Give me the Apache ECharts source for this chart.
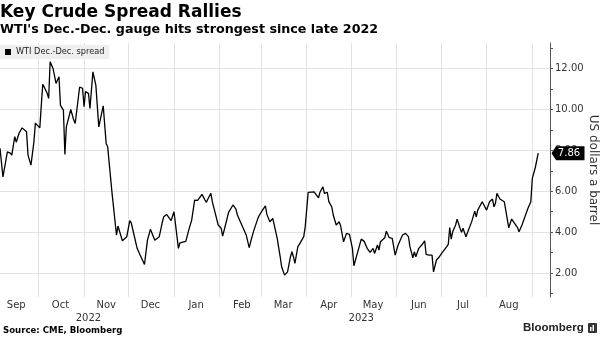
<!DOCTYPE html>
<html>
<head>
<meta charset="utf-8">
<script src="https://cdn.jsdelivr.net/npm/echarts@6/dist/echarts.min.js"></script>
<style>
  html, body { margin: 0; padding: 0; background: #fff; }
  #chart { width: 600px; height: 337px; }
</style>
</head>
<body>
<div id="chart"></div>
<script>
// WTI December-December calendar spread, US$ per barrel
const dates = [
  '2022-09-05','2022-09-07','2022-09-10','2022-09-12','2022-09-13','2022-09-15','2022-09-16','2022-09-18',
  '2022-09-20','2022-09-21','2022-09-23','2022-09-24','2022-09-26','2022-09-28','2022-09-29','2022-09-30',
  '2022-10-02','2022-10-03','2022-10-04','2022-10-07','2022-10-08','2022-10-09','2022-10-11','2022-10-13',
  '2022-10-15','2022-10-16','2022-10-18','2022-10-19','2022-10-20','2022-10-23','2022-10-25','2022-10-26',
  '2022-10-29','2022-10-31','2022-11-01','2022-11-02','2022-11-04','2022-11-05','2022-11-07','2022-11-09',
  '2022-11-11','2022-11-14','2022-11-16','2022-11-17','2022-11-18','2022-11-20','2022-11-23','2022-11-24',
  '2022-11-27','2022-11-30','2022-12-02','2022-12-03','2022-12-07','2022-12-09','2022-12-12','2022-12-14',
  '2022-12-16','2022-12-19','2022-12-22','2022-12-24','2022-12-25','2022-12-27','2022-12-30','2023-01-01',
  '2023-01-04','2023-01-05','2023-01-09','2023-01-11','2023-01-13','2023-01-15','2023-01-17','2023-01-18',
  '2023-01-20','2023-01-22','2023-01-23','2023-01-24','2023-01-26','2023-01-27','2023-01-29','2023-01-30',
  '2023-01-31','2023-02-02','2023-02-03','2023-02-04','2023-02-06','2023-02-07','2023-02-08','2023-02-10',
  '2023-02-12','2023-02-13','2023-02-15','2023-02-16','2023-02-18','2023-02-19','2023-02-21','2023-02-22',
  '2023-02-24','2023-02-25','2023-02-27','2023-02-28','2023-03-02','2023-03-04','2023-03-05','2023-03-07',
  '2023-03-09','2023-03-10','2023-03-12','2023-03-14','2023-03-15','2023-03-16','2023-03-17','2023-03-19',
  '2023-03-21','2023-03-22','2023-03-23','2023-03-24','2023-03-26','2023-03-27','2023-03-28','2023-03-30',
  '2023-03-31','2023-04-02','2023-04-03','2023-04-06','2023-04-07','2023-04-09','2023-04-10','2023-04-12',
  '2023-04-13','2023-04-15','2023-04-16','2023-04-18','2023-04-19','2023-04-21','2023-04-23','2023-04-24',
  '2023-04-26','2023-04-28','2023-04-30','2023-05-02','2023-05-03','2023-05-05','2023-05-08','2023-05-10',
  '2023-05-12','2023-05-14','2023-05-15','2023-05-16','2023-05-17','2023-05-19','2023-05-20','2023-05-21',
  '2023-05-24','2023-05-25','2023-05-27','2023-05-29','2023-05-31','2023-06-02','2023-06-05','2023-06-06',
  '2023-06-07','2023-06-09','2023-06-10','2023-06-12','2023-06-13','2023-06-14','2023-06-16','2023-06-18',
  '2023-06-19','2023-06-20','2023-06-21','2023-06-23','2023-06-25','2023-06-26','2023-06-28','2023-06-30',
  '2023-07-02','2023-07-05','2023-07-06','2023-07-07','2023-07-08','2023-07-09','2023-07-11','2023-07-12',
  '2023-07-14','2023-07-15','2023-07-16','2023-07-18','2023-07-19','2023-07-22','2023-07-24','2023-07-25',
  '2023-07-26','2023-07-29','2023-07-30','2023-08-01','2023-08-03','2023-08-05','2023-08-06','2023-08-07',
  '2023-08-08','2023-08-10','2023-08-11','2023-08-13','2023-08-14','2023-08-16','2023-08-18','2023-08-20',
  '2023-08-22','2023-08-23','2023-08-25','2023-08-27','2023-08-29','2023-08-31','2023-09-01','2023-09-03',
  '2023-09-05'
];
const spread = [
  8.10, 6.70, 7.93, 7.87, 7.77, 8.67, 8.40, 8.85,
  9.10, 9.04, 8.91, 7.77, 7.28, 8.42, 9.33, 9.40,
  9.10, 10.20, 11.23, 10.79, 10.54, 12.33, 12.00, 11.27,
  11.60, 10.20, 9.97, 7.80, 9.15, 10.00, 9.48, 9.32,
  11.10, 11.03, 10.13, 10.87, 10.79, 10.05, 11.84, 11.19,
  9.15, 10.18, 8.34, 8.18, 8.21, 5.90, 3.86, 4.30,
  3.58, 3.78, 4.56, 4.46, 3.21, 2.88, 2.42, 3.61,
  4.14, 3.61, 3.78, 4.46, 4.75, 4.87, 4.56, 5.00,
  3.21, 3.48, 3.55, 4.10, 4.59, 5.57, 5.55, 5.65,
  5.85, 5.57, 5.46, 5.62, 5.90, 5.49, 4.92, 4.87,
  4.35, 4.19, 3.81, 3.86, 4.67, 4.97, 4.92, 5.33,
  5.13, 4.84, 4.51, 4.43, 4.02, 3.86, 3.24, 3.53,
  4.05, 4.10, 4.70, 4.84, 5.08, 5.29, 4.87, 4.51,
  4.67, 4.59, 3.70, 2.80, 2.31, 2.39, 1.90, 2.06,
  2.80, 3.04, 2.80, 2.47, 3.29, 3.40, 3.34, 3.78,
  4.27, 5.95, 6.00, 5.97, 5.97, 5.68, 5.95, 6.22,
  5.90, 5.95, 5.49, 5.24, 4.84, 4.35, 4.51, 4.31,
  3.53, 3.94, 3.89, 3.21, 2.36, 2.88, 3.66, 3.55,
  3.21, 3.01, 3.04, 3.21, 2.96, 3.37, 3.12, 3.53,
  3.73, 4.05, 3.73, 3.70, 2.88, 3.37, 3.86, 3.82,
  3.94, 3.78, 3.29, 2.75, 3.04, 2.80, 3.21, 3.37,
  3.29, 3.58, 2.91, 2.88, 2.88, 2.06, 2.64, 2.80,
  3.01, 3.29, 3.40, 4.22, 3.66, 4.02, 4.35, 4.64,
  4.19, 3.99, 4.19, 3.78, 3.86, 4.54, 5.03, 4.75,
  5.08, 5.49, 5.41, 5.08, 5.49, 5.62, 5.24, 5.41,
  5.90, 5.62, 5.68, 5.49, 5.08, 4.22, 4.64, 4.43,
  4.22, 4.02, 4.35, 4.75, 5.16, 5.49, 6.63, 7.15,
  7.86
];

// Axis range and ticks
const xStart = '2022-09-05';
const xEnd = '2023-09-13';
const monthStarts = ['2022-10-01','2022-11-01','2022-12-01','2023-01-01','2023-02-01','2023-03-01',
  '2023-04-01','2023-05-01','2023-06-01','2023-07-01','2023-08-01','2023-09-01'];
const monthMids = ['2022-09-16','2022-10-16','2022-11-16','2022-12-16','2023-01-16','2023-02-16',
  '2023-03-16','2023-04-16','2023-05-16','2023-06-16','2023-07-16','2023-08-16'];
const monthLabels = ['Sep','Oct','Nov','Dec','Jan','Feb','Mar','Apr','May','Jun','Jul','Aug'];
const yearMarks = ['2022-11-04','2023-05-08'];
const yearLabels = ['2022','2023'];
const yMin = 0.83, yMax = 13.25;
const yTicks = [2, 4, 6, 8, 10, 12];
const yMinorTicks = [1, 3, 5, 7, 9, 11, 13];

const FONT = 'DejaVu Sans';
const ts = d => echarts.number.parseDate(d).getTime();
const monthByTime = new Map(monthMids.map((d, i) => [ts(d), monthLabels[i]]));
const yearByTime = new Map(yearMarks.map((d, i) => [ts(d), yearLabels[i]]));
const last = spread.length - 1;

const chart = echarts.init(document.getElementById('chart'), null, { renderer: 'canvas' });

// Dates are plotted as millisecond timestamps on linear axes
const baseX = {
  type: 'value', min: ts(xStart), max: ts(xEnd), gridIndex: 0, position: 'bottom',
  axisLine: { show: false }, axisTick: { show: false },
  splitLine: { show: false }, axisLabel: { show: false }
};

chart.setOption({
  animation: false,
  backgroundColor: '#fff',
  title: [
    { text: 'Key Crude Spread Rallies', left: 0, top: 3, padding: 0,
      textStyle: { fontFamily: FONT, fontSize: 17, fontWeight: 'bold', color: '#000', lineHeight: 20 } },
    { text: "WTI's Dec.-Dec. gauge hits strongest since late 2022", left: 0, top: 22, padding: 0,
      textStyle: { fontFamily: FONT, fontSize: 12.7, fontWeight: 'bold', color: '#000', lineHeight: 15 } }
  ],
  legend: {
    left: 0, top: 45, padding: [3, 5, 3, 5],
    backgroundColor: '#efefef',
    icon: 'rect', itemWidth: 6, itemHeight: 6,
    textStyle: { fontFamily: FONT, fontSize: 8.2, color: '#222' },
    data: ['WTI Dec.-Dec. spread']
  },
  grid: { left: 0, right: 50, top: 43, bottom: 40, containLabel: false, outerBoundsMode: 'none' },
  xAxis: [
    Object.assign({}, baseX, {
      axisTick: { show: false, customValues: monthStarts.map(ts) },
      splitLine: { show: true, lineStyle: { color: '#e3e3e3', width: 1 } }
    }),
    Object.assign({}, baseX, {
      axisLabel: {
        show: true, customValues: monthMids.map(ts), margin: 3,
        fontFamily: FONT, fontSize: 10, color: '#333',
        formatter: v => monthByTime.get(v) || ''
      }
    }),
    Object.assign({}, baseX, {
      axisLabel: {
        show: true, customValues: yearMarks.map(ts), margin: 16,
        fontFamily: FONT, fontSize: 10, color: '#333',
        formatter: v => yearByTime.get(v) || ''
      }
    })
  ],
  yAxis: [
    {
      type: 'value', position: 'right', min: yMin, max: yMax,
      name: 'US dollars a barrel', nameLocation: 'middle', nameRotate: -90, nameGap: 37,
      nameMoveOverlap: false,
      nameTextStyle: { fontFamily: FONT, fontSize: 12, color: '#333' },
      axisLine: { show: true, lineStyle: { color: '#555', width: 1 } },
      axisTick: { show: true, customValues: yTicks, length: 3, lineStyle: { color: '#555' } },
      axisLabel: {
        show: true, customValues: yTicks, margin: 5,
        fontFamily: FONT, fontSize: 10, color: '#333',
        formatter: v => v.toFixed(2)
      },
      splitLine: { show: true, lineStyle: { color: '#e3e3e3', width: 1 } }
    },
    {
      type: 'value', position: 'right', min: yMin, max: yMax,
      axisLine: { show: false },
      axisTick: { show: true, customValues: yMinorTicks, length: 3, lineStyle: { color: '#555' } },
      axisLabel: { show: false },
      splitLine: { show: false }
    }
  ],
  series: [{
    name: 'WTI Dec.-Dec. spread',
    type: 'line',
    xAxisIndex: 0, yAxisIndex: 0,
    showSymbol: false,
    color: '#000',
    lineStyle: { color: '#000', width: 1.3 },
    data: dates.map((d, i) => [ts(d), spread[i]]),
    markPoint: {
      silent: true,
      symbol: 'path://M0,7 L5,0 L36,0 L36,14 L5,14 Z',
      symbolSize: [33, 14],
      symbolKeepAspect: false,
      symbolOffset: [18, 0],
      itemStyle: { color: '#000' },
      label: {
        show: true, position: 'inside', offset: [1, 0],
        fontFamily: FONT, fontSize: 10, color: '#fff',
        formatter: p => p.value.toFixed(2)
      },
      data: [{ coord: [ts(xEnd), spread[last]], value: spread[last] }]
    }
  }],
  graphic: [
    { type: 'text', left: 3, top: 326,
      style: { text: 'Source: CME, Bloomberg', fontFamily: FONT, fontSize: 8.6, fontWeight: 'bold', fill: '#000' } },
    { type: 'text', left: 523, top: 322,
      style: { text: 'Bloomberg', fontFamily: 'Liberation Sans', fontSize: 11.5, fontWeight: 'bold', fill: '#222' } },
    { type: 'rect', left: 588, top: 323, shape: { width: 9, height: 10, r: 1 }, style: { fill: '#333' } },
    { type: 'rect', left: 590, top: 327, shape: { width: 1.5, height: 4 }, style: { fill: '#fff' } },
    { type: 'rect', left: 592.5, top: 325, shape: { width: 1.5, height: 6 }, style: { fill: '#fff' } }
  ]
});
</script>
</body>
</html>
